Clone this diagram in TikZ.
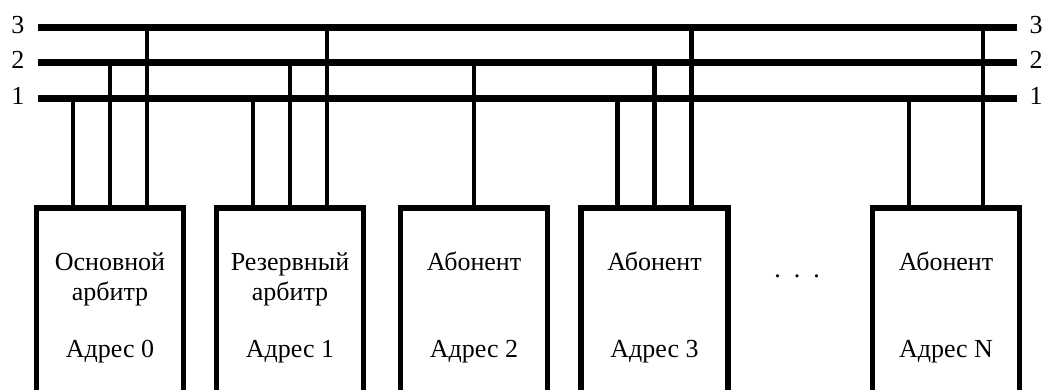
\documentclass[tikz,border=0pt]{standalone}
\usepackage{fontspec}
\setmainfont{Liberation Serif}
\usetikzlibrary{positioning,calc}
\tikzset{
  busline/.style={line width=7pt},
  tapline/.style={line width=4.5pt},
  devbox/.style={draw,line width=5.5pt,minimum width=147pt,minimum height=230pt,
    anchor=north,inner sep=0pt,outer sep=0pt},
  buslabel/.style={font=\fontsize{26}{30}\selectfont,inner sep=0pt},
  boxtext/.style={font=\fontsize{26}{30}\selectfont,anchor=base,align=center,inner sep=0pt}
}

\begin{document}
\begin{tikzpicture}[x=1pt,y=-1pt]
  \useasboundingbox (0,0) rectangle (1042,389);
  \clip (0,0) rectangle (1042,389);
  % bus lines
  \coordinate (bus3L) at (38,27);  \coordinate (bus3R) at (1017,27);
  \coordinate (bus2L) at (38,62);  \coordinate (bus2R) at (1017,62);
  \coordinate (bus1L) at (38,98);  \coordinate (bus1R) at (1017,98);
  \draw[busline] (bus3L) -- (bus3R);
  \draw[busline] (bus2L) -- (bus2R);
  \draw[busline] (bus1L) -- (bus1R);
  \node[buslabel] (n3L) at (18,25) {3};
  \node[buslabel] (n2L) at (18,60) {2};
  \node[buslabel] (n1L) at (18,96) {1};
  \node[buslabel] (n3R) at (1036,25) {3};
  \node[buslabel] (n2R) at (1036,60) {2};
  \node[buslabel] (n1R) at (1036,96) {1};
  % devices
  \node[devbox] (main) at (110,208) {};
  \node[devbox] (spare) at (290,208) {};
  \node[devbox] (ab2) at (474,208) {};
  \node[devbox] (ab3) at (654.5,208) {};
  \node[devbox] (abN) at (946,208) {};
  \node[boxtext] (mainT) at ($(main.north)+(0,92)$) {Основной\\арбитр};
  \node[boxtext] (spareT) at ($(spare.north)+(0,92)$) {Резервный\\арбитр};
  \node[boxtext] (ab2T) at ($(ab2.north)+(0,62)$) {Абонент};
  \node[boxtext] (ab3T) at ($(ab3.north)+(0,62)$) {Абонент};
  \node[boxtext] (abNT) at ($(abN.north)+(0,62)$) {Абонент};
  \node[boxtext] (mainA) at ($(main.north)+(0,149)$) {Адрес 0};
  \node[boxtext] (spareA) at ($(spare.north)+(0,149)$) {Адрес 1};
  \node[boxtext] (ab2A) at ($(ab2.north)+(0,149)$) {Адрес 2};
  \node[boxtext] (ab3A) at ($(ab3.north)+(0,149)$) {Адрес 3};
  \node[boxtext] (abNA) at ($(abN.north)+(0,149)$) {Адрес N};
  \node[boxtext] (dots) at (797,277) {.\hspace{13pt}.\hspace{13pt}.};
  % taps to the bus
  \foreach \dev in {main,spare,ab3}{
    \draw[tapline] ([xshift=-37pt]\dev.north) -- ([xshift=-37pt]\dev.north |- bus1L);
    \draw[tapline] (\dev.north) -- (\dev.north |- bus2L);
    \draw[tapline] ([xshift=37pt]\dev.north) -- ([xshift=37pt]\dev.north |- bus3L);
  }
  \draw[tapline] (ab2.north) -- (ab2.north |- bus2L);
  \draw[tapline] ([xshift=-37pt]abN.north) -- ([xshift=-37pt]abN.north |- bus1L);
  \draw[tapline] ([xshift=37pt]abN.north) -- ([xshift=37pt]abN.north |- bus3L);
\end{tikzpicture}
\end{document}
